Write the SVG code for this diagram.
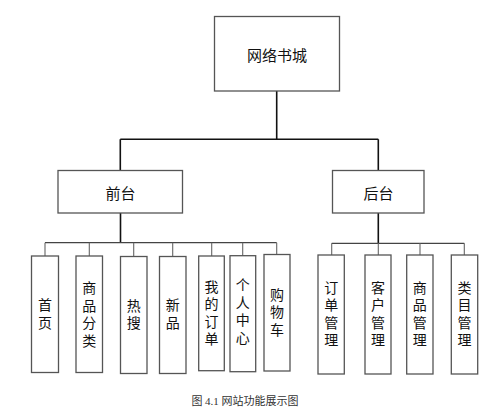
<svg xmlns="http://www.w3.org/2000/svg" width="500" height="413" viewBox="0 0 500 413">
<style>
.box{fill:#fff;stroke:#555;stroke-width:1.3}
.main{stroke:#111;stroke-width:1.6;fill:none}
.sub{stroke:#444;stroke-width:1.2;fill:none}
.stem{stroke:#666;stroke-width:1.1;fill:none}
text{font-family:"Noto Sans CJK SC","Liberation Sans",sans-serif;fill:#111;text-anchor:middle}
.lbl{font-size:15px;dominant-baseline:central}
.v{font-size:14px;writing-mode:vertical-rl;text-orientation:upright;letter-spacing:3.5px}
.cap{font-family:"Liberation Serif","Noto Sans CJK SC",serif;font-size:11px;fill:#333;dominant-baseline:central}
</style>
<rect width="500" height="413" fill="#fff"/>
<g id="connectors">
<path class="main" d="M276.7,91V139.3M120.3,139.3H378.3M120.3,139.3V170.5M378.3,139.3V170.5"/>
<path class="main" d="M120.5,212.7V242.7M378.3,212.7V243.3"/>
<path class="sub" d="M45,242.7H276.7M331.7,243.3H464.3"/>
<path class="stem" d="M45,242.7V256M89.3,242.7V256M133.7,242.7V256.5M172.7,242.7V256.5M211.7,242.7V256M242.7,242.7V255.7M276.7,242.7V254.5"/>
<path class="stem" d="M331.7,243.3V255M378.3,243.3V255M420,243.3V255M464.3,243.3V255"/>
</g>
<g id="n-root"><rect class="box" x="214.5" y="16.5" width="125" height="74.5"/><text class="lbl" x="277" y="54">网络书城</text></g>
<g id="n-front"><rect class="box" x="58" y="170.5" width="124.5" height="42.5"/><text class="lbl" x="120.5" y="192">前台</text></g>
<g id="n-back"><rect class="box" x="332.5" y="170.5" width="91.5" height="42.5"/><text class="lbl" x="378.5" y="192">后台</text></g>
<g id="n-home"><rect class="box" x="31.5" y="256" width="27" height="116.5"/><text class="v" x="45" y="315.2">首页</text></g>
<g id="n-category"><rect class="box" x="76" y="256" width="26.5" height="116.5"/><text class="v" x="89.3" y="315.7">商品分类</text></g>
<g id="n-hot"><rect class="box" x="120.5" y="256.5" width="26.5" height="117"/><text class="v" x="133.7" y="315.7">热搜</text></g>
<g id="n-new"><rect class="box" x="159.5" y="256.5" width="26.5" height="117"/><text class="v" x="172.7" y="315.2">新品</text></g>
<g id="n-myorder"><rect class="box" x="198.7" y="256" width="25.6" height="114.7"/><text class="v" x="211.5" y="314.3">我的订单</text></g>
<g id="n-profile"><rect class="box" x="230" y="255.7" width="25.7" height="116"/><text class="v" x="242.8" y="312.7">个人中心</text></g>
<g id="n-cart"><rect class="box" x="264" y="254.5" width="26" height="116.5"/><text class="v" x="277" y="313.7">购物车</text></g>
<g id="n-ordermgr"><rect class="box" x="318" y="255" width="26.3" height="119"/><text class="v" x="331.2" y="315.6">订单管理</text></g>
<g id="n-customermgr"><rect class="box" x="365" y="255" width="26" height="119"/><text class="v" x="378" y="315.6">客户管理</text></g>
<g id="n-goodsmgr"><rect class="box" x="406.7" y="255" width="26.3" height="119"/><text class="v" x="419.8" y="315.6">商品管理</text></g>
<g id="n-catmgr"><rect class="box" x="451.3" y="255" width="26.4" height="119"/><text class="v" x="464.5" y="315.6">类目管理</text></g>
<text class="cap" x="245" y="401">图 4.1 网站功能展示图</text>
</svg>
